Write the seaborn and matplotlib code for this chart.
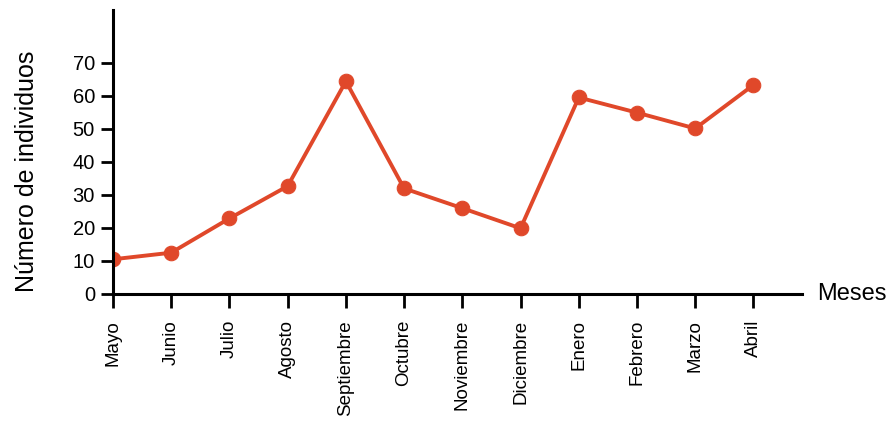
import pandas as pd
import seaborn as sns
import matplotlib.pyplot as plt

meses = ["Mayo", "Junio", "Julio", "Agosto", "Septiembre", "Octubre",
         "Noviembre", "Diciembre", "Enero", "Febrero", "Marzo", "Abril"]
individuos = [10.4, 12.4, 22.8, 32.6, 64.4, 31.9, 25.9, 19.8, 59.5, 54.9, 50.1, 63.3]
y_ticks = [0, 10, 20, 30, 40, 50, 60, 70]

sns.set_style("white")
plt.rcParams['font.family'] = ['Liberation Sans', 'DejaVu Sans']
plt.rcParams['text.color'] = 'black'
plt.rcParams['axes.labelcolor'] = 'black'
plt.rcParams['xtick.color'] = 'black'
plt.rcParams['ytick.color'] = 'black'

df = pd.DataFrame({"mes": meses, "n": individuos})
color = "#E0482A"

fig = plt.figure(figsize=(8.93, 4.23), dpi=100)
ax = fig.add_axes([0.1265, 0.306, 0.772, 0.670])
sns.lineplot(data=df, x="mes", y="n", ax=ax, color=color, linewidth=2.8,
             marker="o", markersize=10.5, markeredgecolor=color, sort=False)

ax.set_xlim(0, 11.84)
ax.set_ylim(0, 86)
ax.set_yticks(y_ticks)
ax.set_xticks(range(len(meses)))
ax.set_xticklabels(meses, rotation=90, fontsize=13.5)
ax.tick_params(axis='y', labelsize=14.5, length=9, width=2, direction='out', left=True, pad=4)
ax.tick_params(axis='x', length=10, width=2, direction='out', bottom=True, pad=9)

for s in ["top", "right"]:
    ax.spines[s].set_visible(False)
for s in ["left", "bottom"]:
    ax.spines[s].set_linewidth(2.2)
    ax.spines[s].set_color("black")

ax.set_ylabel("Número de individuos", fontsize=18)
ax.yaxis.set_label_coords(-0.108, 0.43)
ax.set_xlabel("")
ax.text(1.022, 0.0, "Meses", transform=ax.transAxes, fontsize=17,
        ha="left", va="center")

fig.savefig("out.png", dpi=100)
